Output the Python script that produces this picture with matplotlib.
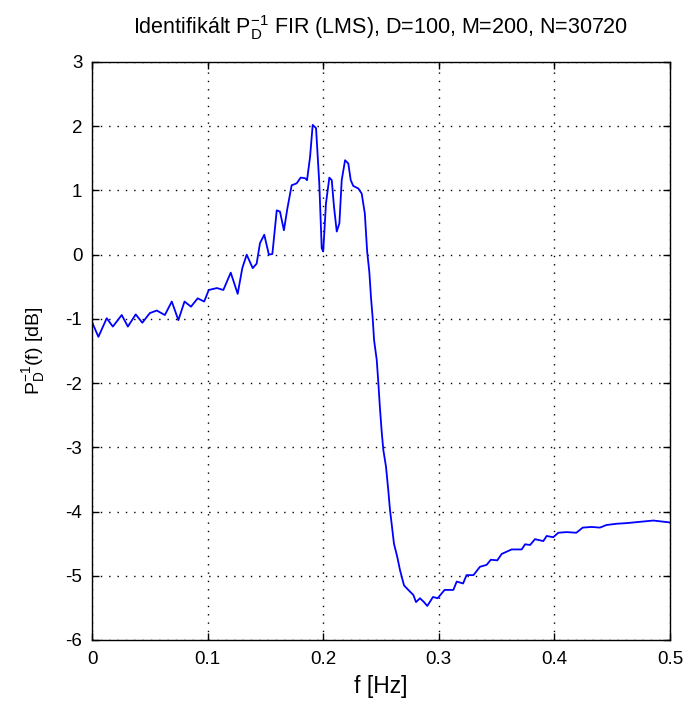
import matplotlib.pyplot as plt
import numpy as np

# frequency [Hz] and estimated response [dB]
freq = [0.0, 0.0055, 0.0127, 0.018, 0.0257, 0.031, 0.0378, 0.0435, 0.050, 0.056,
        0.063, 0.069, 0.0747, 0.080, 0.0856, 0.0914, 0.097, 0.101, 0.108, 0.1136,
        0.120, 0.126, 0.130, 0.1338, 0.139, 0.1424, 0.1453, 0.149, 0.153, 0.156,
        0.1598, 0.1626, 0.166, 0.169, 0.1727, 0.177, 0.1805, 0.1843, 0.186, 0.1886,
        0.1909, 0.1938, 0.1966, 0.1987, 0.2, 0.2024, 0.2053, 0.2074, 0.2093, 0.2117,
        0.214, 0.216, 0.2189, 0.2217, 0.2238, 0.226, 0.2304, 0.2333, 0.236, 0.238,
        0.2399, 0.2413, 0.2428, 0.244, 0.2463, 0.2477, 0.249, 0.2506, 0.252, 0.2543,
        0.2563, 0.2578, 0.2592, 0.2612, 0.2641, 0.2664, 0.2699, 0.2736, 0.278, 0.2803,
        0.2837, 0.2872, 0.290, 0.2950, 0.2990, 0.3050, 0.3126, 0.3155, 0.321, 0.324,
        0.330, 0.3356, 0.3414, 0.345, 0.3506, 0.3544, 0.363, 0.3717, 0.3746, 0.379,
        0.3832, 0.3904, 0.3933, 0.399, 0.4034, 0.4106, 0.419, 0.4245, 0.4322, 0.4394,
        0.445, 0.4538, 0.4625, 0.474, 0.4856, 0.5]
resp = [-1.05, -1.28, -0.99, -1.12, -0.94, -1.12, -0.93, -1.06, -0.91, -0.87,
        -0.94, -0.73, -1.02, -0.73, -0.81, -0.68, -0.73, -0.55, -0.52, -0.55,
        -0.28, -0.61, -0.21, 0.0, -0.21, -0.14, 0.18, 0.31, 0.0, 0.01,
        0.69, 0.67, 0.38, 0.72, 1.08, 1.11, 1.20, 1.19, 1.16, 1.52,
        2.02, 1.97, 1.11, 0.10, 0.05, 0.80, 1.20, 1.16, 0.75, 0.36,
        0.49, 1.16, 1.47, 1.42, 1.16, 1.07, 1.03, 0.95, 0.64, 0.05,
        -0.27, -0.66, -0.99, -1.33, -1.64, -2.0, -2.37, -2.76, -3.04, -3.30,
        -3.67, -3.98, -4.19, -4.50, -4.71, -4.91, -5.15, -5.22, -5.30, -5.41,
        -5.35, -5.41, -5.47, -5.33, -5.35, -5.22, -5.22, -5.09, -5.12, -4.99,
        -4.99, -4.86, -4.83, -4.75, -4.76, -4.66, -4.59, -4.59, -4.51, -4.52,
        -4.43, -4.46, -4.38, -4.40, -4.33, -4.32, -4.33, -4.25, -4.24, -4.25,
        -4.21, -4.19, -4.18, -4.16, -4.14, -4.17]

xticks = [0, 0.1, 0.2, 0.3, 0.4, 0.5]
xticklabels = ['0', '0.1', '0.2', '0.3', '0.4', '0.5']
yticks = [-6, -5, -4, -3, -2, -1, 0, 1, 2, 3]

plt.rcParams['font.family'] = ['Liberation Sans', 'DejaVu Sans']
plt.rcParams['axes.unicode_minus'] = False
plt.rcParams['mathtext.fontset'] = 'custom'
plt.rcParams['mathtext.rm'] = 'Liberation Sans'
plt.rcParams['mathtext.it'] = 'Liberation Sans'

fig = plt.figure(figsize=(6.93, 7.10), dpi=100)
ax = fig.add_axes([0.1328, 0.0986, 0.834, 0.8141])

ax.plot(freq, resp, color='#0000ff', linewidth=1.3)

ax.set_xlim(0, 0.5)
ax.set_ylim(-6, 3)
ax.set_xticks(xticks)
ax.set_xticklabels(xticklabels)
ax.set_yticks(yticks)
ax.tick_params(direction='in', top=True, right=True, length=5, width=1,
               labelsize=13.5)
ax.tick_params(axis='x', pad=8)
ax.tick_params(axis='y', pad=7)
ax.grid(True, color='black', linestyle=(0, (1, 5)), linewidth=1)
for s in ax.spines.values():
    s.set_linewidth(1)

ax.set_title(r'Identifikált $\mathrm{P_D^{-1}}$ FIR (LMS), D=100, M=200, N=30720',
             fontsize=15.5, pad=20)
ax.set_xlabel('f [Hz]', fontsize=16.5, labelpad=5)
ax.set_ylabel(r'$\mathrm{P_D^{-1}(f)}$ [dB]', fontsize=14, labelpad=13)

fig.savefig('out.png', dpi=100)
